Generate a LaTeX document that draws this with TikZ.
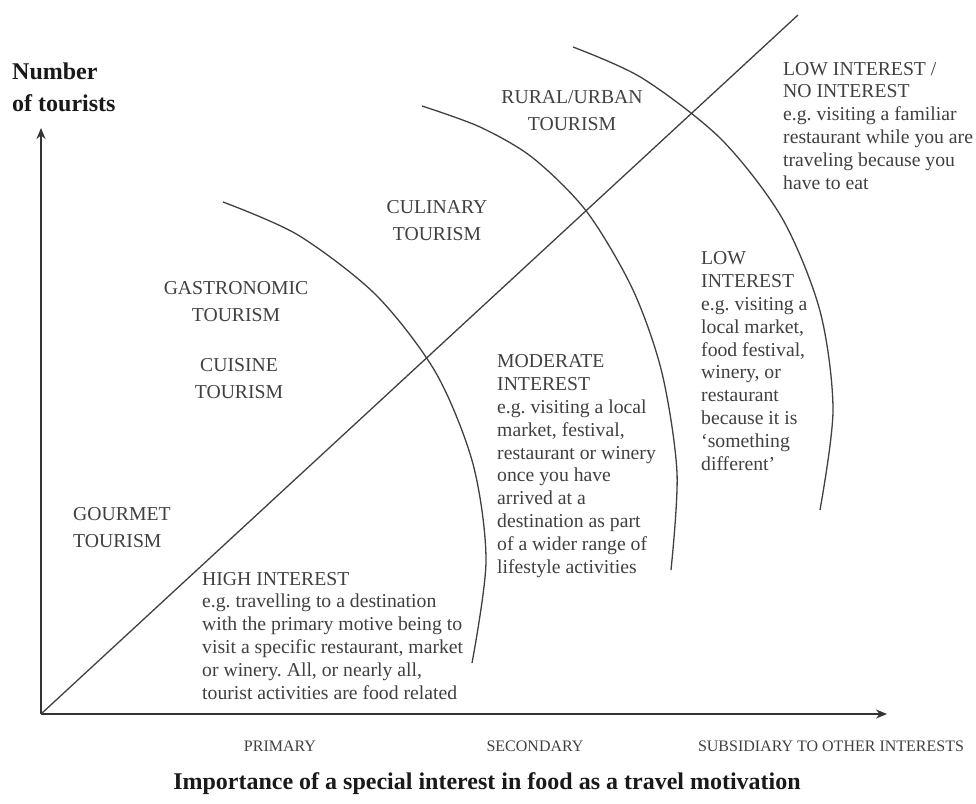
\documentclass[tikz,border=0pt]{standalone}
\usepackage{fontspec}
\setmainfont{Liberation Serif}
\usetikzlibrary{arrows.meta}
\frenchspacing

\begin{document}
\begin{tikzpicture}[x = 1pt, y = -1pt,
    axis/.style = {line width = 2pt, black!80,
      -{Stealth[length = 11pt, width = 9pt]}},
    curve/.style = {line width = 1.3pt, black!75},
    label/.style = {black!75, inner sep = 0pt, align = center, anchor = base,
      font = \fontsize{19.7}{26.5}\selectfont},
    block/.style = {black!75, inner sep = 0pt, align = left, anchor = base west,
      font = \fontsize{19.7}{22.8}\selectfont},
    tick/.style = {black!75, inner sep = 0pt, anchor = base,
      font = \fontsize{16}{18}\selectfont},
    heading/.style = {black!90, inner sep = 0pt, align = left,
      font = \fontsize{24}{32}\selectfont\bfseries}]
  \useasboundingbox (0, 0) rectangle (976, 803);

  \coordinate (origin) at (41, 714);
  \coordinate (ytip) at (41, 128);
  \coordinate (xtip) at (887, 714);
  \coordinate (diagtop) at (798, 15);

  \draw[axis] (origin) -- (ytip);
  \draw[axis] (origin) -- (xtip);
  \draw[curve] (origin) -- (diagtop);

  % the three interest bands
  \draw[curve]
    plot[smooth] coordinates {
      (223, 202) (298, 235) (376, 295) (436, 373)
      (473, 464) (486, 561) (472, 663)
    };
  \draw[curve]
    plot[smooth] coordinates {
      (422, 106) (480, 127) (533, 158) (587, 212)
      (633, 290) (662, 373) (677, 473) (671, 570)
    };
  \draw[curve]
    plot[smooth] coordinates {
      (573, 47) (642, 78) (721, 139) (782, 218)
      (820, 311) (833, 410) (820, 510)
    };

  % multi-line nodes sit on the baseline of their last line
  \node[heading, anchor = base west] (ylabel) at (12, 111)
    {Number\\of tourists};

  \node[label] (culinary) at (437, 240) {CULINARY\\TOURISM};
  \node[label] (rural) at (572, 130) {RURAL/URBAN\\TOURISM};
  \node[label] (gastro) at (236, 321) {GASTRONOMIC\\TOURISM};
  \node[label] (cuisine) at (239, 398) {CUISINE\\TOURISM};
  \node[label, align = left, anchor = base west] (gourmet) at (73, 547)
    {GOURMET\\TOURISM};

  \node[block] (high) at (202, 699)
    {HIGH INTEREST\\e.g. travelling to a destination\\with the primary motive being to\\visit a specific restaurant, market\\or winery. All, or nearly all,\\tourist activities are food related};
  \node[block] (moderate) at (497, 573)
    {MODERATE\\INTEREST\\e.g. visiting a local\\market, festival,\\restaurant or winery\\once you have\\arrived at a\\destination as part\\of a wider range of\\lifestyle activities};
  \node[block] (low) at (701, 470)
    {LOW\\INTEREST\\e.g. visiting a\\local market,\\food festival,\\winery, or\\restaurant\\because it is\\`something\\different'};
  \node[block] (none) at (783, 189)
    {LOW INTEREST /\\NO INTEREST\\e.g. visiting a familiar\\restaurant while you are\\traveling because you\\have to eat};

  \node[tick] (primary) at (280, 751) {PRIMARY};
  \node[tick] (secondary) at (535, 751) {SECONDARY};
  \node[tick] (subsidiary) at (831, 751) {SUBSIDIARY TO OTHER INTERESTS};

  \node[heading, anchor = base] (xlabel) at (487, 789)
    {Importance of a special interest in food as a travel motivation};
\end{tikzpicture}
\end{document}
